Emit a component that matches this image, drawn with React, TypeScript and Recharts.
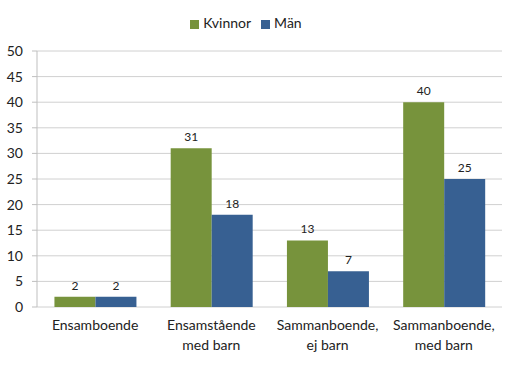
import { BarChart, Bar, XAxis, YAxis, CartesianGrid, Legend, LabelList } from "recharts"

const categories = ["Ensamboende", "Ensamstående\nmed barn", "Sammanboende,\nej barn", "Sammanboende,\nmed barn"]
const kvinnor = [2, 31, 13, 40]
const man = [2, 18, 7, 25]
const yTicks = [0, 5, 10, 15, 20, 25, 30, 35, 40, 45, 50]
const boundaryTicks = [0, 1, 2, 3, 4]

const data = categories.map((c, i) => ({ name: c, Kvinnor: kvinnor[i], Män: man[i] }))

const font = "Lato, 'Open Sans', sans-serif"

const CategoryTick = (props: any) => {
    const { x, y, payload } = props
    const lines = String(payload.value).split("\n")
    return (
        <text x={x} y={y} textAnchor="middle" fill="#222" fontSize={14} fontFamily={font}>
            {lines.map((l, i) => (
                <tspan key={i} x={x} dy={i === 0 ? 15 : 20}>{l}</tspan>
            ))}
        </text>
    )
}

const App = () => {
    return (
        <div style={{ position: "absolute", left: 0, top: 0, background: "#fff" }}>
            <BarChart
                width={514}
                height={366}
                data={data}
                margin={{ top: 14, right: 12, bottom: 0, left: 0 }}
                barCategoryGap="15%"
                barGap={0}
            >
                <CartesianGrid vertical={false} stroke="#d0d0d0" />
                <Legend
                    verticalAlign="top"
                    align="center"
                    iconType="square"
                    iconSize={9}
                    height={37}
                    wrapperStyle={{ fontFamily: font, fontSize: 14, color: "#222" }}
                    formatter={(v: string) => <span style={{ color: "#222" }}>{v}</span>}
                />
                <XAxis
                    xAxisId="bounds"
                    type="number"
                    domain={[0, 4]}
                    ticks={boundaryTicks}
                    tick={false}
                    tickSize={5}
                    height={0}
                    stroke="#bfbfbf"
                    allowDataOverflow
                />
                <XAxis
                    dataKey="name"
                    axisLine={false}
                    tickLine={false}
                    tick={<CategoryTick />}
                    height={59}
                    interval={0}
                />
                <YAxis
                    domain={[0, 50]}
                    ticks={yTicks}
                    width={37}
                    tickSize={5}
                    tickMargin={9}
                    stroke="#bfbfbf"
                    tick={{ fill: "#222", fontSize: 14, fontFamily: font }}
                    interval={0}
                />
                <Bar dataKey="Kvinnor" fill="#77933c" isAnimationActive={false}>
                    <LabelList dataKey="Kvinnor" position="top" offset={7} fill="#222" fontSize={12} fontFamily={font} />
                </Bar>
                <Bar dataKey="Män" fill="#376092" isAnimationActive={false}>
                    <LabelList dataKey="Män" position="top" offset={7} fill="#222" fontSize={12} fontFamily={font} />
                </Bar>
            </BarChart>
        </div>
    )
}
export default App
